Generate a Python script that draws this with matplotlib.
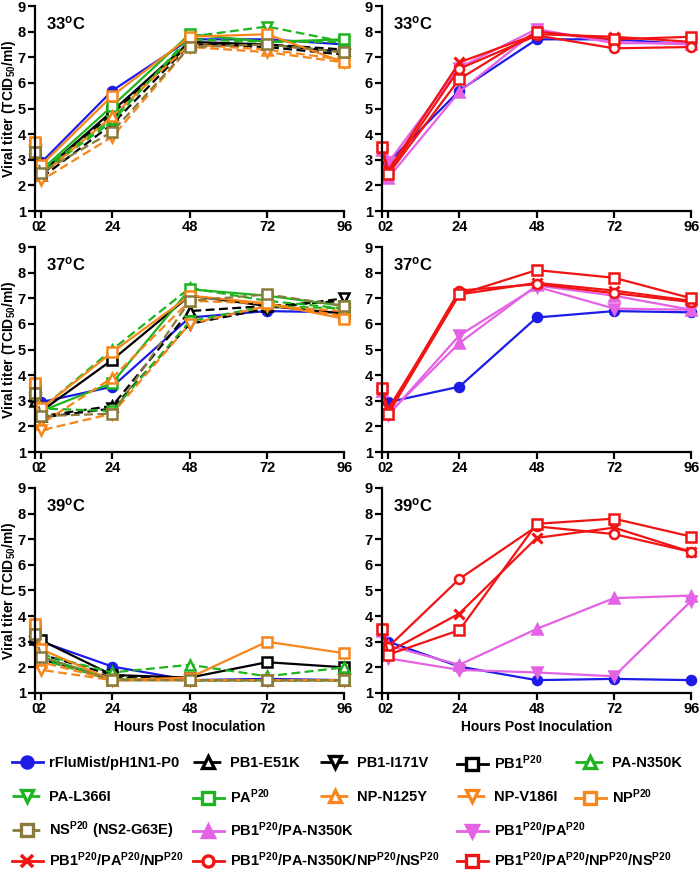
import matplotlib
matplotlib.use('Agg')
import matplotlib.pyplot as plt
from matplotlib.lines import Line2D

plt.rcParams['font.family'] = ['Liberation Sans', 'DejaVu Sans']
plt.rcParams['font.weight'] = 'bold'
plt.rcParams['mathtext.fontset'] = 'custom'
plt.rcParams['mathtext.rm'] = 'Liberation Sans:bold'
plt.rcParams['mathtext.it'] = 'Liberation Sans:bold'
plt.rcParams['mathtext.bf'] = 'Liberation Sans:bold'
plt.rcParams['mathtext.default'] = 'rm'

# hours post inoculation
hours = [0, 2, 24, 48, 72, 96]
x_ticks = [0, 2, 24, 48, 72, 96]
y_ticks = [1, 2, 3, 4, 5, 6, 7, 8, 9]
temps = ['33$^{o}$C', '37$^{o}$C', '39$^{o}$C']

strains = ['rFluMist/pH1N1-P0', 'PB1-E51K', 'PB1-I171V', 'PB1$^{P20}$',
           'PA-N350K', 'PA-L366I', 'PA$^{P20}$', 'NP-N125Y', 'NP-V186I',
           'NP$^{P20}$', 'NS$^{P20}$ (NS2-G63E)', 'PB1$^{P20}$/PA-N350K',
           'PB1$^{P20}$/PA$^{P20}$', 'PB1$^{P20}$/PA$^{P20}$/NP$^{P20}$',
           'PB1$^{P20}$/PA-N350K/NP$^{P20}$/NS$^{P20}$',
           'PB1$^{P20}$/PA$^{P20}$/NP$^{P20}$/NS$^{P20}$']

# titers, one row per strain (same order as strains)
titer_33 = [
    [3.4, 2.9, 5.7, 7.7, 7.7, 7.5],
    [3.3, 2.4, 4.8, 7.5, 7.5, 7.3],
    [3.3, 2.3, 4.4, 7.5, 7.4, 7.1],
    [3.4, 2.5, 4.9, 7.6, 7.5, 7.2],
    [3.5, 2.6, 4.6, 7.7, 7.6, 7.6],
    [3.4, 2.5, 4.5, 7.8, 8.2, 7.6],
    [3.6, 2.6, 5.1, 7.9, 7.6, 7.7],
    [3.5, 2.4, 4.7, 7.5, 7.3, 6.9],
    [3.4, 2.2, 3.9, 7.4, 7.2, 6.8],
    [3.7, 2.8, 5.5, 7.8, 7.9, 6.8],
    [3.3, 2.5, 4.1, 7.4, 7.5, 7.2],
    [3.4, 2.3, 5.65, 8.05, 7.6, 7.5],
    [3.4, 2.9, 6.6, 8.1, 7.55, 7.55],
    [3.45, 2.6, 6.8, 7.9, 7.8, 7.6],
    [3.45, 2.5, 6.55, 7.85, 7.35, 7.4],
    [3.5, 2.45, 6.15, 8.0, 7.7, 7.8],
]
titer_37 = [
    [3.4, 2.95, 3.55, 6.25, 6.5, 6.45],
    [3.0, 2.4, 2.8, 6.5, 6.7, 6.9],
    [3.1, 2.35, 2.7, 6.0, 6.6, 7.0],
    [3.2, 2.6, 4.6, 7.1, 6.7, 6.4],
    [3.5, 2.7, 5.0, 7.4, 6.9, 6.6],
    [3.4, 2.7, 2.6, 6.1, 6.7, 6.6],
    [3.6, 2.6, 3.7, 7.35, 7.1, 6.7],
    [3.5, 2.1, 3.9, 6.9, 6.8, 6.3],
    [3.3, 1.85, 2.5, 6.0, 6.7, 6.5],
    [3.7, 2.7, 4.9, 7.1, 6.8, 6.2],
    [3.3, 2.4, 2.5, 6.9, 7.15, 6.7],
    [3.4, 2.5, 5.25, 7.5, 7.1, 6.55],
    [3.4, 2.45, 5.55, 7.45, 6.6, 6.55],
    [3.45, 2.7, 7.15, 7.6, 7.3, 6.9],
    [3.45, 2.6, 7.3, 7.55, 7.2, 6.85],
    [3.5, 2.5, 7.15, 8.1, 7.8, 7.0],
]
titer_39 = [
    [3.4, 3.0, 2.03, 1.5, 1.55, 1.5],
    [3.1, 2.5, 1.7, 1.5, 1.5, 1.5],
    [3.0, 2.3, 1.6, 1.5, 1.5, 1.5],
    [3.2, 3.05, 1.7, 1.6, 2.2, 2.0],
    [3.5, 2.5, 1.8, 2.1, 1.65, 2.0],
    [3.4, 2.3, 1.5, 1.5, 1.5, 1.5],
    [3.6, 2.4, 1.55, 1.5, 1.5, 1.5],
    [3.5, 2.2, 1.5, 1.5, 1.5, 1.5],
    [3.3, 1.9, 1.5, 1.5, 1.5, 1.5],
    [3.7, 2.7, 1.5, 1.6, 3.0, 2.55],
    [3.3, 2.4, 1.5, 1.5, 1.5, 1.5],
    [3.4, 2.85, 2.1, 3.5, 4.7, 4.8],
    [3.4, 2.35, 1.9, 1.8, 1.65, 4.6],
    [3.45, 2.6, 4.1, 7.05, 7.45, 6.5],
    [3.45, 2.8, 5.45, 7.5, 7.2, 6.5],
    [3.5, 2.5, 3.45, 7.6, 7.8, 7.1],
]
titers = [titer_33, titer_37, titer_39]

# styles
BLUE, BLACK, GREEN = '#1c1ce6', '#000000', '#1fb41f'
ORANGE, OLIVE, PINK, RED = '#f7861c', '#8c7a3c', '#e462e4', '#f01414'
dash = (0, (4, 2))
styles = [
    dict(color=BLUE, ls='-', marker='o', mfc=BLUE),
    dict(color=BLACK, ls=dash, marker='^', mfc='white'),
    dict(color=BLACK, ls=dash, marker='v', mfc='white'),
    dict(color=BLACK, ls='-', marker='s', mfc='white'),
    dict(color=GREEN, ls=dash, marker='^', mfc='white'),
    dict(color=GREEN, ls=dash, marker='v', mfc='white'),
    dict(color=GREEN, ls='-', marker='s', mfc='white'),
    dict(color=ORANGE, ls=dash, marker='^', mfc='white'),
    dict(color=ORANGE, ls=dash, marker='v', mfc='white'),
    dict(color=ORANGE, ls='-', marker='s', mfc='white'),
    dict(color=OLIVE, ls=dash, marker='s', mfc='white'),
    dict(color=PINK, ls='-', marker='^', mfc=PINK),
    dict(color=PINK, ls='-', marker='v', mfc=PINK),
    dict(color=RED, ls='-', marker='x', mfc=RED),
    dict(color=RED, ls='-', marker='o', mfc='white'),
    dict(color=RED, ls='-', marker='s', mfc='white'),
]
left_group = list(range(0, 11))
right_group = [0, 11, 12, 13, 14, 15]

fig = plt.figure(figsize=(7, 8.71), dpi=100)
col_left = [0.05, 0.5457]
col_w = 0.442
row_bottom = [0.7577, 0.481, 0.2044]
row_h = 0.2354


def draw(ax, data, group):
    for i in group:
        st = styles[i]
        ax.plot(hours, data[i], color=st['color'], ls=st['ls'], lw=1.6,
                marker=st['marker'], ms=6.5, mfc=st['mfc'], mec=st['color'],
                mew=2.2 if st['marker'] == 'x' else 1.8, clip_on=False)


for r in range(3):
    for c in range(2):
        ax = fig.add_axes([col_left[c], row_bottom[r], col_w, row_h])
        draw(ax, titers[r], left_group if c == 0 else right_group)
        ax.set_xlim(0, 96)
        ax.set_ylim(1, 9)
        ax.set_xticks(x_ticks)
        ax.set_yticks(y_ticks)
        ax.spines['top'].set_visible(False)
        ax.spines['right'].set_visible(False)
        for s in ['left', 'bottom']:
            ax.spines[s].set_linewidth(1.6)
        ax.tick_params(width=1.6, length=5, labelsize=10.5, pad=1.5)
        for lab in ax.get_xticklabels() + ax.get_yticklabels():
            lab.set_fontweight('bold')
        ax.text(0.035, 0.915, temps[r], transform=ax.transAxes,
                fontsize=12, fontweight='bold', ha='left', va='center')
        if c == 0:
            ax.set_ylabel('Viral titer (TCID$_{50}$/ml)', fontsize=10,
                          fontweight='bold')
            ax.yaxis.set_label_coords(-0.056, 0.5)
        if r == 2:
            ax.set_xlabel('Hours Post Inoculation', fontsize=10,
                          fontweight='bold', labelpad=3)

# legend entries laid out like the original figure (pixel positions)
leg_x = [12, 193, 320, 457, 575,
         12, 193, 320, 457, 575,
         12, 193, 457,
         12, 193, 457]
leg_y = [763, 763, 763, 763, 763,
         797, 797, 797, 797, 797,
         830, 830, 830,
         860, 860, 860]
for k in range(len(strains)):
    st = styles[k]
    h = Line2D([], [], color=st['color'], ls=st['ls'], lw=2,
               marker=st['marker'], ms=8, mfc=st['mfc'], mec=st['color'],
               mew=2.6 if st['marker'] == 'x' else 2.4)
    fig.legend([h], [strains[k]], loc='center left',
               bbox_to_anchor=(leg_x[k] / 700, 1 - leg_y[k] / 871),
               frameon=False, borderpad=0, borderaxespad=0,
               handlelength=2.1, handletextpad=0.45,
               prop={'weight': 'bold', 'size': 10.5})

fig.savefig('out.png', dpi=100)
